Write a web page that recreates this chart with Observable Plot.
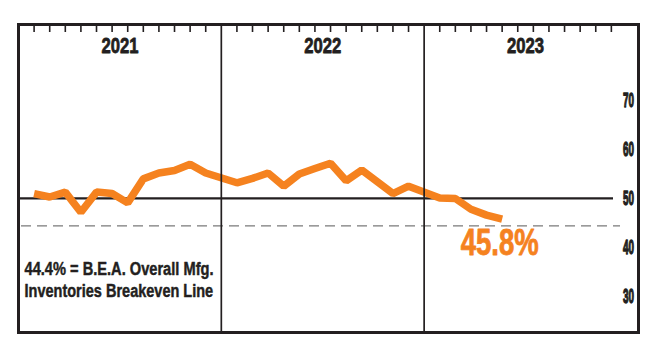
<!DOCTYPE html>
<html><head><meta charset="utf-8">
<script src="https://cdn.jsdelivr.net/npm/d3@7"></script>
<script src="https://cdn.jsdelivr.net/npm/@observablehq/plot@0.6"></script>
<style>html,body{margin:0;padding:0;background:#fff} svg{display:block}</style>
</head><body><div id="chart"></div>
<script>
const years = ["2021", "2022", "2023"];
const monthsPerYear = 12;
const values2021 = [51.0, 50.3, 51.3, 47.2, 51.3, 51.0, 49.1, 54.0, 55.2, 55.7, 57.0, 55.2];
const values2022 = [53.2, 54.1, 55.2, 52.5, 55.0, 56.1, 57.2, 53.6, 55.8, 53.4, 51.0, 52.5];
const values2023 = [50.1, 50.0, 47.8, 46.6, 45.8];
const yTicks = [30, 40, 50, 60, 70];
const breakeven = 44.4;
const reference = 50;
const lastLabel = "45.8%";
const noteLine1 = "44.4% = B.E.A. Overall Mfg.";
const noteLine2 = "Inventories Breakeven Line";

const slot = monthsPerYear + 1;
const series = [values2021, values2022, values2023];
const data = series.flatMap((vals, yi) => vals.map((v, m) => ({pos: yi * slot + m + 1, value: v})));
const monthTicks = years.flatMap((y, yi) => d3.range(monthsPerYear).map(m => yi * slot + m + 1));
const yearBounds = years.slice(1).map((y, i) => (i + 1) * slot);
const yearCenters = years.map((y, yi) => ({year: y, pos: yi * slot + slot / 2}));
const last = data[data.length - 1];

const ink = "#231f20";
const orange = "#f5821f";
const font = "'Liberation Sans',Arial,Helvetica,sans-serif";

const chart = Plot.plot({
  width: 653, height: 355,
  marginLeft: 18, marginRight: 15, marginTop: 24, marginBottom: 23,
  x: {domain: [0, 39.74], axis: null},
  y: {domain: [22.65, 85.5], axis: null},
  style: {fontFamily: font, background: "#fff"},
  marks: [
    Plot.ruleY([reference], {stroke: ink, strokeWidth: 2.2, insetRight: 25}),
    Plot.ruleY([breakeven], {stroke: "#7a7a7a", strokeWidth: 1.4, strokeDasharray: "10,6", insetLeft: 3, insetRight: 18}),
    Plot.line(data, {x: "pos", y: "value", stroke: orange, strokeWidth: 7.5, strokeLinejoin: "miter", strokeLinecap: "butt"}),
    Plot.ruleX(yearBounds, {stroke: ink, strokeWidth: 1.7}),
    Plot.ruleX(monthTicks, {stroke: ink, strokeWidth: 1.6, insetBottom: 300}),
    Plot.frame({stroke: ink, strokeWidth: 3}),
    Plot.text(yearCenters, {x: "pos", frameAnchor: "top", dy: 21, text: "year", fontSize: 22, fontWeight: "bold", fill: ink, stroke: ink, strokeWidth: 0.8, lineAnchor: "middle"}),
    Plot.text(yTicks, {y: d => d, frameAnchor: "right", dx: -10, text: d => String(d), fontSize: 20, fontWeight: "bold", fill: ink, stroke: ink, strokeWidth: 1.3, textAnchor: "middle", lineAnchor: "middle"}),
    Plot.text([last], {x: "pos", y: "value", text: () => lastLabel, dx: -2.5, dy: 24, fontSize: 36, fontWeight: "bold", fill: orange, stroke: orange, strokeWidth: 0.8, textAnchor: "middle", lineAnchor: "middle"}),
    Plot.text([noteLine1], {frameAnchor: "bottom-left", dx: 6, dy: -63, text: d => d, fontSize: 17.5, fontWeight: "bold", fill: ink, stroke: ink, strokeWidth: 0.45, textAnchor: "start", lineAnchor: "middle"}),
    Plot.text([noteLine2], {frameAnchor: "bottom-left", dx: 6, dy: -40.7, text: d => d, fontSize: 17.5, fontWeight: "bold", fill: ink, stroke: ink, strokeWidth: 0.45, textAnchor: "start", lineAnchor: "middle"})
  ]
});

const lengths = new Map([
  ...years.map(y => [y, 37]),
  ...yTicks.map(t => [String(t), 11]),
  [lastLabel, 78],
  [noteLine1, 189],
  [noteLine2, 188.7]
]);
d3.select(chart).selectAll("text").each(function() {
  const len = lengths.get(this.textContent.trim());
  if (len) d3.select(this).attr("textLength", len).attr("lengthAdjust", "spacingAndGlyphs");
});

document.getElementById("chart").appendChild(chart);
</script>
</body></html>
